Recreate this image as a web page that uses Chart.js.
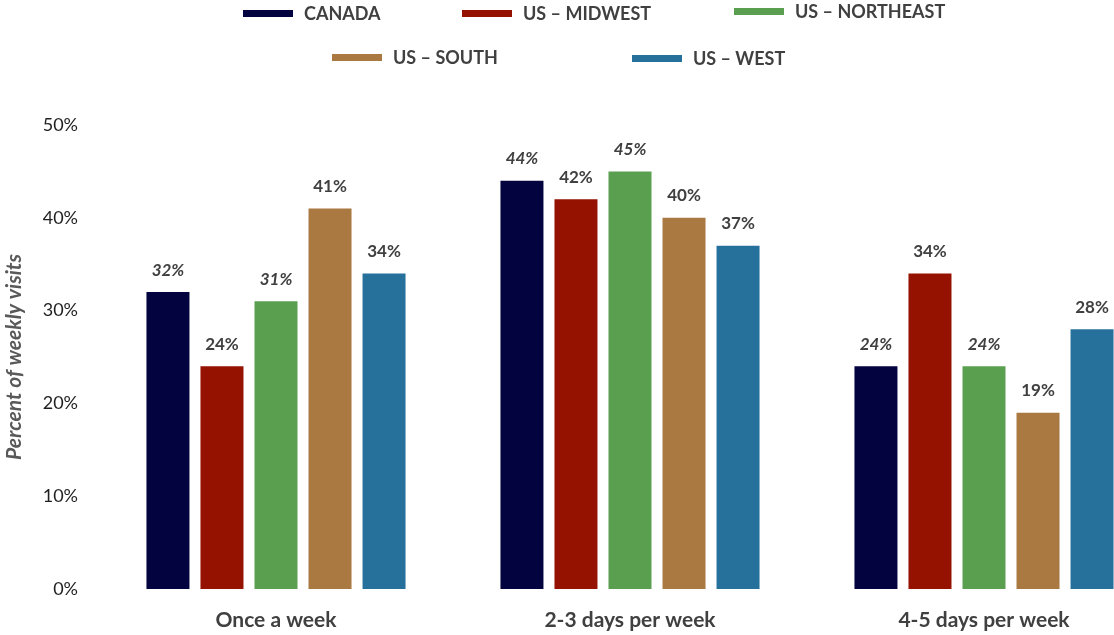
<!DOCTYPE html>
<html>
<head>
<meta charset="utf-8">
<script src="https://cdn.jsdelivr.net/npm/chart.js@4.4.1/dist/chart.umd.min.js"></script>
<style>
  html, body { margin: 0; padding: 0; background: #fff; }
  #wrap { position: relative; width: 1114px; height: 635px; overflow: hidden; }
  #chart { position: absolute; left: 0; top: 0; }
  .legend-item { position: absolute; display: flex; align-items: center; height: 24px; font: bold 18px Lato, sans-serif; color: #404040; white-space: nowrap; }
  .legend-swatch { width: 50px; height: 7px; margin-right: 11px; }
</style>
</head>
<body>
<div id="wrap">
  <canvas id="chart" width="1161" height="635"></canvas>
  <div id="legend"></div>
</div>
<script>
// weekly visit frequency by region
var categories = ["Once a week", "2-3 days per week", "4-5 days per week"];
var regions = ["CANADA", "US \u2013 MIDWEST", "US \u2013 NORTHEAST", "US \u2013 SOUTH", "US \u2013 WEST"];
var canada    = [32, 44, 24];
var midwest   = [24, 42, 34];
var northeast = [31, 45, 24];
var south     = [41, 40, 19];
var west      = [34, 37, 28];
var yTicks    = [0, 10, 20, 30, 40, 50];

var colors = ["#02033f", "#951200", "#5a9f50", "#a97941", "#26719b"];
var italicLabels = [true, false, true, false, false];
var series = [canada, midwest, northeast, south, west];

// legend item placement (left, vertical centre)
var legendPos = [[243, 13], [462, 13], [734, 11], [332, 57], [632, 58]];

var datasets = [];
for (let i = 0; i < series.length; i++) {
    datasets.push({
        label: regions[i],
        data: series[i],
        backgroundColor: colors[i],
        borderWidth: 0,
        labelItalic: italicLabels[i],
        categoryPercentage: 0.763,
        barPercentage: 0.796,
    });
}

// value labels above each bar
var valueLabels = {
    id: "valueLabels",
    afterDatasetsDraw: function (chart) {
        var ctx = chart.ctx;
        chart.data.datasets.forEach(function (ds, i) {
            chart.getDatasetMeta(i).data.forEach(function (bar, j) {
                ctx.save();
                ctx.font = (ds.labelItalic ? "italic " : "") + "bold 17px Lato";
                ctx.fillStyle = "#404040";
                ctx.textAlign = "center";
                ctx.textBaseline = "middle";
                ctx.fillText(ds.data[j] + "%", bar.x, bar.y - 22);
                ctx.restore();
            });
        });
    },
};

new Chart(document.getElementById("chart"), {
    type: "bar",
    data: { labels: categories, datasets: datasets },
    options: {
        responsive: false,
        animation: false,
        layout: { padding: { top: 125, bottom: 0, left: 0, right: 0 } },
        plugins: { legend: { display: false }, tooltip: { enabled: false } },
        scales: {
            x: {
                afterFit: function (scale) { scale.height = 46; },
                grid: { display: false, drawTicks: false },
                border: { display: false },
                ticks: {
                    padding: 19,
                    maxRotation: 0,
                    color: "#404040",
                    font: { family: "Lato", size: 21, weight: "bold" },
                },
            },
            y: {
                min: 0,
                max: 50,
                afterFit: function (scale) { scale.width = 99; },
                afterBuildTicks: function (scale) {
                    scale.ticks = yTicks.map(function (v) { return { value: v }; });
                },
                grid: { display: false, drawTicks: false },
                border: { display: false },
                ticks: {
                    padding: 21,
                    color: "#1f1f1f",
                    font: { family: "Lato", size: 18 },
                    callback: function (v) { return v + "%"; },
                },
                title: {
                    display: true,
                    text: "Percent of weekly visits",
                    color: "#595959",
                    padding: { top: 2, bottom: 2 },
                    font: { family: "Lato", size: 21, weight: "bold", style: "italic" },
                },
            },
        },
    },
    plugins: [valueLabels],
});

// legend above the plot
var legendEl = document.getElementById("legend");
regions.forEach(function (name, i) {
    var item = document.createElement("div");
    item.className = "legend-item";
    item.style.left = legendPos[i][0] + "px";
    item.style.top = (legendPos[i][1] - 12) + "px";
    var sw = document.createElement("span");
    sw.className = "legend-swatch";
    sw.style.background = colors[i];
    item.appendChild(sw);
    item.appendChild(document.createTextNode(name));
    legendEl.appendChild(item);
});
</script>
</body>
</html>
